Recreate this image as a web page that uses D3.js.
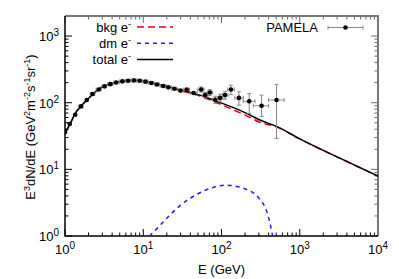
<!DOCTYPE html>
<html>
<head>
<meta charset="utf-8">
<script src="https://cdn.jsdelivr.net/npm/d3@7"></script>
<style>
  body { margin: 0; background: white; }
  text { font-family: "Liberation Sans", Arial, sans-serif; }
</style>
</head>
<body>
<div id="chart"></div>
<script>
// model curves (E in GeV, E^3 dN/dE)
var totE = [1, 1.17, 1.35, 1.65, 2.1, 2.8, 4, 5.6, 7.5, 11, 16.5, 24, 36, 53, 87, 190, 310, 530, 1000, 3000, 10000];
var totV = [35, 49, 69, 92, 123, 164, 195, 211, 218, 206, 186, 166, 147, 130, 105, 73, 55, 43, 28.6, 15.4, 7.9];
var bkgE = [1, 1.17, 1.35, 1.65, 2.1, 2.8, 4, 5.6, 7.5, 11, 16.5, 24, 36, 53, 87, 190, 310, 530, 1000, 3000, 10000];
var bkgV = [35, 49, 69, 92, 123, 164, 195, 211, 217, 205, 184, 163, 143, 126, 100, 67, 51, 42.5, 28.6, 15.4, 7.9];
var dmE = [12, 15, 20, 30, 50, 80, 110, 150, 200, 300, 380, 430, 460, 480];
var dmV = [1.0, 1.3, 1.85, 2.9, 4.3, 5.4, 5.8, 5.6, 5.1, 3.7, 2.3, 1.3, 0.8, 0.4];

// PAMELA data
var pamE = [1.0, 1.15, 1.35, 1.6, 1.9, 2.25, 2.7, 3.2, 3.8, 4.5, 5.4, 6.4, 7.6, 9.0, 10.7, 12.7, 15, 18, 21, 25, 30, 36, 44, 55, 62, 71, 83, 96, 111, 132, 167, 226, 325, 505];
var pamV = [36, 48, 66, 88, 110, 135, 158, 176, 190, 201, 209, 214, 216, 213, 207, 198, 188, 178, 170, 162, 152, 158, 140, 158, 130, 142, 111, 118, 130, 158, 118, 105, 90, 110];
var pamLo = [35, 47, 65, 87, 108, 133, 156, 174, 188, 199, 207, 212, 214, 211, 205, 196, 186, 176, 167, 159, 148, 153, 134, 145, 118, 128, 98, 103, 113, 132, 92, 69, 62, 29];
var pamHi = [37, 49, 67, 89, 112, 137, 160, 178, 192, 203, 211, 216, 218, 215, 209, 200, 190, 180, 173, 165, 156, 163, 146, 172, 143, 157, 125, 134, 148, 183, 146, 137, 130, 188];
var pamELo = [1.0, 1.1, 1.28, 1.5, 1.8, 2.1, 2.5, 3.0, 3.5, 4.2, 5.0, 5.9, 7.0, 8.3, 9.9, 11.7, 14, 16.5, 19.5, 23, 28, 33, 40, 50, 58, 66, 77, 89, 103, 120, 148, 190, 255, 398];
var pamEHi = [1.05, 1.22, 1.42, 1.7, 2.0, 2.4, 2.9, 3.4, 4.1, 4.9, 5.8, 6.9, 8.2, 9.7, 11.5, 13.7, 16, 19.5, 23, 27, 33, 39, 49, 60, 67, 77, 90, 104, 121, 146, 190, 268, 400, 632];

var xTicks = [1, 10, 100, 1000, 10000];
var yTicks = [1, 10, 100, 1000];

var W = 399, H = 279;
var m = {left: 65, right: 21, top: 16, bottom: 43};
var pw = W - m.left - m.right, ph = H - m.top - m.bottom;

var svg = d3.select('#chart').append('svg')
  .attr('width', W)
  .attr('height', H);

var x = d3.scaleLog().domain([1, 10000]).range([0, pw]);
var y = d3.scaleLog().domain([1, 2000]).range([ph, 0]);

var g = svg.append('g')
  .attr('transform', 'translate(' + m.left + ',' + m.top + ')');

g.append('clipPath').attr('id', 'clip')
  .append('rect').attr('width', pw).attr('height', ph);

// minor ticks for both axes
var xMinor = [], yMinor = [];
for (var d = 1; d < 10000; d *= 10) for (var k = 1; k < 10; k++) xMinor.push(d * k);
for (var d = 1; d < 2000; d *= 10) for (var k = 1; k < 10; k++) if (d * k <= 2000) yMinor.push(d * k);

function tickLen(v) { return Math.abs(Math.log10(v) - Math.round(Math.log10(v))) < 1e-9 ? 7 : 3.5; }

var ticks = g.append('g').attr('stroke', '#000').attr('stroke-width', 1);
xMinor.forEach(function(v) {
  var L = tickLen(v);
  ticks.append('line').attr('x1', x(v)).attr('x2', x(v)).attr('y1', ph).attr('y2', ph - L);
  ticks.append('line').attr('x1', x(v)).attr('x2', x(v)).attr('y1', 0).attr('y2', L).attr('stroke', '#666');
});
yMinor.forEach(function(v) {
  var L = tickLen(v);
  ticks.append('line').attr('x1', 0).attr('x2', L).attr('y1', y(v)).attr('y2', y(v));
  ticks.append('line').attr('x1', pw).attr('x2', pw - L).attr('y1', y(v)).attr('y2', y(v)).attr('stroke', '#666');
});

// frame
g.append('path').attr('d', 'M0,0H' + pw + 'V' + ph)
  .attr('fill', 'none').attr('stroke', '#777').attr('stroke-width', 2);
g.append('path').attr('d', 'M0,0V' + ph + 'H' + pw)
  .attr('fill', 'none').attr('stroke', '#000').attr('stroke-width', 1.5);

// tick labels with superscript exponent
xTicks.forEach(function(v) {
  var t = g.append('text').attr('x', x(v)).attr('y', ph + 18)
    .attr('text-anchor', 'middle').attr('font-size', 13);
  t.append('tspan').text('10');
  t.append('tspan').attr('dy', -5).attr('font-size', 10).text(Math.round(Math.log10(v)));
});
yTicks.forEach(function(v) {
  var t = g.append('text').attr('x', -6).attr('y', y(v) + 5)
    .attr('text-anchor', 'end').attr('font-size', 13);
  t.append('tspan').text('10');
  t.append('tspan').attr('dy', -5).attr('font-size', 10).text(Math.round(Math.log10(v)));
});

// axis titles
svg.append('text').attr('x', m.left + x(100)).attr('y', 274)
  .attr('text-anchor', 'middle').attr('font-size', 13).text('E (GeV)');

var yl = svg.append('text')
  .attr('transform', 'translate(35,127) rotate(-90)')
  .attr('text-anchor', 'middle').attr('font-size', 13);
function sup(t, s) { yl.append('tspan').text(t); yl.append('tspan').attr('dy', -5).attr('font-size', 9).text(s); yl.append('tspan').attr('dy', 5).text(''); }
yl.append('tspan').text('E');
yl.append('tspan').attr('dy', -5).attr('font-size', 9).text('3');
yl.append('tspan').attr('dy', 5).text('dN/dE (GeV');
yl.append('tspan').attr('dy', -5).attr('font-size', 9).text('2');
yl.append('tspan').attr('dy', 5).text('m');
yl.append('tspan').attr('dy', -5).attr('font-size', 9).text('-2');
yl.append('tspan').attr('dy', 5).text('s');
yl.append('tspan').attr('dy', -5).attr('font-size', 9).text('-1');
yl.append('tspan').attr('dy', 5).text('sr');
yl.append('tspan').attr('dy', -5).attr('font-size', 9).text('-1');
yl.append('tspan').attr('dy', 5).text(')');

// curves
var plot = g.append('g').attr('clip-path', 'url(#clip)');
var line = d3.line().curve(d3.curveMonotoneX)
  .x(function(d) { return x(d[0]); })
  .y(function(d) { return y(d[1]); });

plot.append('path').datum(d3.zip(bkgE, bkgV)).attr('d', line)
  .attr('fill', 'none').attr('stroke', '#e8000b').attr('stroke-width', 1.5)
  .attr('stroke-dasharray', '7,4');
plot.append('path').datum(d3.zip(dmE, dmV)).attr('d', line)
  .attr('fill', 'none').attr('stroke', '#1a1aff').attr('stroke-width', 1.5)
  .attr('stroke-dasharray', '4,4');
plot.append('path').datum(d3.zip(totE, totV)).attr('d', line)
  .attr('fill', 'none').attr('stroke', '#000').attr('stroke-width', 1.5);

// PAMELA points with error bars
var pts = d3.range(pamE.length).map(function(i) {
  return {e: pamE[i], v: pamV[i], lo: pamLo[i], hi: pamHi[i], el: pamELo[i], eh: pamEHi[i]};
});
var eb = plot.append('g').attr('stroke', '#888').attr('stroke-width', 1);
pts.forEach(function(p) {
  eb.append('line').attr('x1', x(p.e)).attr('x2', x(p.e)).attr('y1', y(p.lo)).attr('y2', y(p.hi));
  eb.append('line').attr('x1', x(p.el)).attr('x2', x(p.eh)).attr('y1', y(p.v)).attr('y2', y(p.v));
  if (y(p.lo) - y(p.hi) > 4) {
    eb.append('line').attr('x1', x(p.e) - 2).attr('x2', x(p.e) + 2).attr('y1', y(p.lo)).attr('y2', y(p.lo));
    eb.append('line').attr('x1', x(p.e) - 2).attr('x2', x(p.e) + 2).attr('y1', y(p.hi)).attr('y2', y(p.hi));
  }
  if (x(p.eh) - x(p.el) > 4) {
    eb.append('line').attr('x1', x(p.el)).attr('x2', x(p.el)).attr('y1', y(p.v) - 2).attr('y2', y(p.v) + 2);
    eb.append('line').attr('x1', x(p.eh)).attr('x2', x(p.eh)).attr('y1', y(p.v) - 2).attr('y2', y(p.v) + 2);
  }
});
plot.selectAll('circle.pt').data(pts).enter().append('circle')
  .attr('class', 'pt')
  .attr('cx', function(d) { return x(d.e); })
  .attr('cy', function(d) { return y(d.v); })
  .attr('r', 2.3)
  .attr('fill', '#000');

// legend (left)
var legend = [
  {label: 'bkg e', color: '#e8000b', dash: '7,4'},
  {label: 'dm e', color: '#1a1aff', dash: '4,4'},
  {label: 'total e', color: '#000', dash: null}
];
legend.forEach(function(l, i) {
  var ly = 11 + i * 16.3;
  var t = g.append('text').attr('x', 66).attr('y', ly + 4.5)
    .attr('text-anchor', 'end').attr('font-size', 13);
  t.append('tspan').text(l.label);
  t.append('tspan').attr('dy', -5).attr('font-size', 9).text('-');
  g.append('line').attr('x1', 72).attr('x2', 108).attr('y1', ly).attr('y2', ly)
    .attr('stroke', l.color).attr('stroke-width', 1.5)
    .attr('stroke-dasharray', l.dash);
});

// legend (PAMELA)
var py = 11.5;
g.append('text').attr('x', 253).attr('y', py + 4.5)
  .attr('text-anchor', 'end').attr('font-size', 13).text('PAMELA');
var pl = g.append('g').attr('stroke', '#888').attr('stroke-width', 1);
pl.append('line').attr('x1', 263).attr('x2', 298).attr('y1', py).attr('y2', py);
pl.append('line').attr('x1', 263).attr('x2', 263).attr('y1', py - 2).attr('y2', py + 2);
pl.append('line').attr('x1', 298).attr('x2', 298).attr('y1', py - 2).attr('y2', py + 2);
g.append('circle').attr('cx', 280.5).attr('cy', py).attr('r', 2.3).attr('fill', '#000');
</script>
</body>
</html>
